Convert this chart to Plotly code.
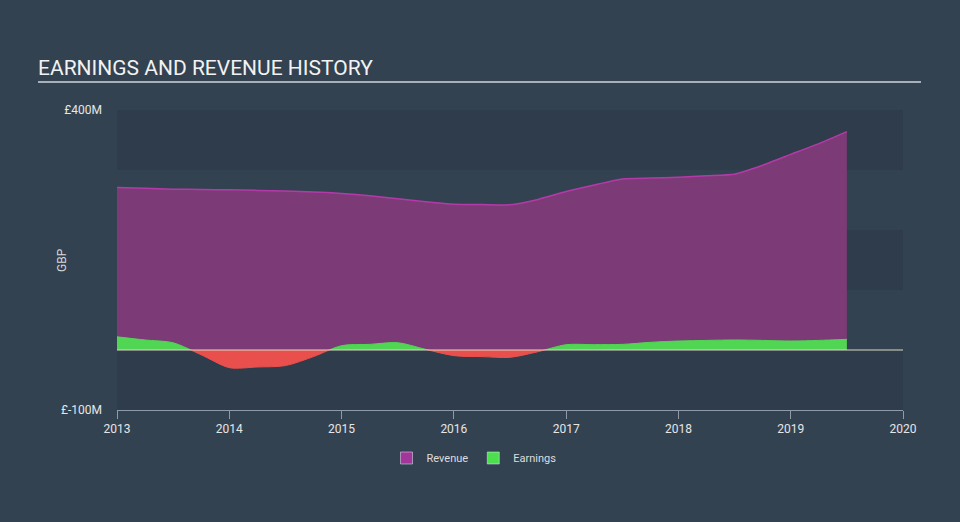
import plotly.graph_objects as go

years = [2013.0, 2013.25, 2013.5, 2013.75, 2014.0, 2014.25, 2014.5, 2014.75,
         2015.0, 2015.25, 2015.5, 2015.75, 2016.0, 2016.25, 2016.5, 2016.75,
         2017.0, 2017.25, 2017.5, 2017.75, 2018.0, 2018.25, 2018.5, 2018.75,
         2019.0, 2019.25, 2019.5]
revenue = [271, 269.5, 268, 267.5, 267, 266, 265, 263.5,
           261, 257, 252, 247, 243, 242.5, 242, 251,
           264, 275, 285, 286.5, 288, 290.5, 293, 308,
           326, 344, 364]
earnings = [22, 16.7, 12, -8, -29.4, -28.3, -26, -11,
            7.2, 9.4, 12.2, 1, -9.4, -11, -12.2, -2.8,
            8.9, 8.9, 9.4, 12.8, 15, 16, 16.7, 16,
            15, 16, 17.8]
x_ticks = [2013, 2014, 2015, 2016, 2017, 2018, 2019, 2020]
y_ticks = [-100, 400]
y_ticktext = ["£-100M", "£400M"]
bands = [(-100, 0), (100, 200), (300, 400)]

BG = "#334251"
BAND = "#2e3c4b"
REV_FILL = "#7c3a77"
REV_LINE = "#b43aa9"
GREEN = "#50d653"
RED = "#e9504d"
FONT = "Roboto"

fig = go.Figure()

fig.add_trace(go.Scatter(x=years, y=revenue, xaxis="x", yaxis="y2", mode="lines",
                         line=dict(color=REV_LINE, width=1.5, shape="spline", smoothing=0.5),
                         fill="tozeroy", fillcolor=REV_FILL, showlegend=False, hoverinfo="skip"))
fig.add_trace(go.Scatter(x=years, y=earnings, xaxis="x", yaxis="y2", mode="lines",
                         line=dict(color=GREEN, width=1, shape="spline", smoothing=0.8),
                         fill="tozeroy", fillcolor=GREEN, showlegend=False, hoverinfo="skip"))
fig.add_trace(go.Scatter(x=years, y=earnings, xaxis="x", yaxis="y3", mode="lines",
                         line=dict(color=RED, width=1, shape="spline", smoothing=0.8),
                         fill="tozeroy", fillcolor=RED, showlegend=False, hoverinfo="skip"))

# legend entries
fig.add_trace(go.Bar(x=[None], y=[None], name="Revenue", marker_color="#a3369b"))
fig.add_trace(go.Bar(x=[None], y=[None], name="Earnings", marker_color="#4ce04f"))

shapes = []
for y0, y1 in bands:
    shapes.append(dict(type="rect", xref="x", yref="y", x0=2013, x1=2020, y0=y0, y1=y1,
                       fillcolor=BAND, line=dict(width=0), layer="below"))
shapes.append(dict(type="line", xref="x", yref="y", x0=2013, x1=2020, y0=0, y1=0,
                   line=dict(color="#dcd9c4", width=1.2), layer="above"))
shapes.append(dict(type="line", xref="paper", yref="paper", x0=-0.1005, x1=1.0229,
                   y0=1.0933, y1=1.0933, line=dict(color="#a9afb6", width=2)))

fig.update_layout(
    width=960, height=522,
    margin=dict(l=117, r=57, t=110, b=112, autoexpand=False),
    paper_bgcolor=BG, plot_bgcolor="rgba(0,0,0,0)",
    font=dict(family=FONT, color="#e6e6e6", size=12),
    title=dict(text="EARNINGS AND REVENUE HISTORY", xref="container", yref="container",
               x=38 / 960, xanchor="left", y=1 - 68 / 522, yanchor="middle",
               font=dict(family=FONT, size=21, color="#f2f2f2")),
    xaxis=dict(range=[2013, 2020], tickvals=x_ticks, showgrid=False, zeroline=False,
               showline=True, linecolor="#8f9ba8", linewidth=1, ticks="outside", ticklen=8,
               tickcolor="#8f9ba8", tickfont=dict(size=12, color="#e6e6e6"), anchor="y",
               automargin=False),
    yaxis=dict(range=[-100, 400], tickvals=y_ticks, ticktext=y_ticktext, showgrid=False,
               zeroline=False, showline=False, ticks="", ticklabelstandoff=14,
               tickfont=dict(size=12, color="#e6e6e6"), domain=[0, 1], automargin=False),
    yaxis2=dict(range=[0, 400], domain=[0.2, 1], visible=False, anchor="x"),
    yaxis3=dict(range=[-100, 0], domain=[0, 0.2], visible=False, anchor="x"),
    shapes=shapes,
    showlegend=True,
    legend=dict(orientation="h", xref="container", yref="container", x=474 / 960,
                xanchor="center", y=1 - 458 / 522, yanchor="middle",
                font=dict(size=11, color="#dddddd"), bgcolor="rgba(0,0,0,0)"),
    annotations=[dict(text="GBP", xref="paper", yref="paper", x=(62 - 117) / 786, y=0.5,
                      textangle=-90, showarrow=False, font=dict(size=12, color="#d8d8d8"),
                      xanchor="center", yanchor="middle")],
)

fig.write_html("out.html")
